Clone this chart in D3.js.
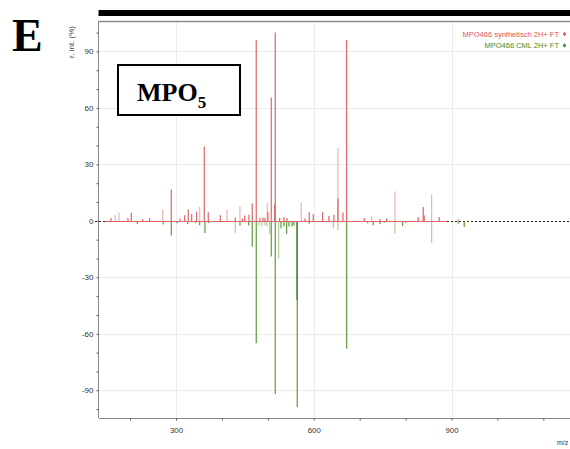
<!DOCTYPE html>
<html>
<head>
<meta charset="utf-8">
<script src="https://cdn.jsdelivr.net/npm/d3@7"></script>
<style>
  html, body { margin: 0; padding: 0; background: #fff; }
  svg { display: block; }
</style>
</head>
<body>
<svg id="chart" width="570" height="449"></svg>
<script>
// ---------- data ----------
// MPO466 synthetisch 2H+ FT (plotted upward) – m/z and relative intensity (%)
const synthMz  = [158.5, 195.5, 202.7, 227.5, 242.7, 289.8, 308.7, 319, 326.8, 334.2, 345, 361.6, 370.3, 396.5, 429, 444.6, 449.6, 458.9, 466.1, 474.8, 482.9, 489.4, 493.8, 500.3, 507.5, 514.9, 516.2, 525.8, 535.1, 541.7, 580.9, 590.2, 598.9, 619.4, 633.1, 644, 652.7, 663.6, 671.7, 710, 744.2, 758.7, 827.5, 838.4, 840.6, 873.3, 914.6];
const synthInt = [1.5, 1.5, 4.3, 0.8, 1.5, 16.7, 1.2, 3, 6, 3.7, 4.8, 39.5, 4.5, 3, 1.8, 1.2, 2.8, 3.2, 9.2, 96, 1.5, 1.8, 1.6, 4.5, 65.5, 8.5, 100, 1.5, 2, 1.5, 1.2, 4.6, 3.5, 4.6, 2.6, 3.2, 11.9, 4.4, 96, 1.5, 1, 1.2, 2, 7.3, 2.8, 2, 0.8];
// weaker (isotope) peaks of the same spectrum
const synthFaintMz  = [167.8, 175.9, 271, 351.6, 411, 439.3, 498.8, 572.8, 652.7, 726.1, 776.8, 856.7];
const synthFaintInt = [3.3, 4.3, 6, 7.3, 6, 7.8, 9.6, 9.6, 38.8, 2.3, 15.7, 14];

// MPO466 CML 2H+ FT (plotted downward)
const cmlMz  = [215.7, 272.3, 289.8, 302.8, 325.5, 342.9, 351.6, 363.1, 371.2, 439.3, 458.3, 466.1, 474.8, 507.5, 516.2, 528.6, 535.1, 541, 546, 552.6, 556.9, 564.1, 590.2, 671.7, 717.4, 729.6, 744.2, 753.5, 793.6, 800.8, 907.4, 914.6, 927.7];
const cmlInt = [-1.7, -2, -7.8, -1.3, -1.7, -1.2, -2.3, -6.4, -1.2, -2.5, -2.5, -13.8, -65, -18.9, -92, -4, -3, -7, -3, -3, -2.5, -99, -1.5, -68, -1.3, -2.3, -1.7, -1, -2.7, -1, -0.8, -1.5, -3.3];
// overlapping (second) CML peak drawn darker
const cmlDarkMz  = [563.6];
const cmlDarkInt = [-42];
const cmlFaintMz  = [429.1, 480.7, 487.2, 493.8, 498.1, 504, 523.6, 642.5, 652.7, 776.8, 856.7];
const cmlFaintInt = [-6.4, -2.5, -3, -2.5, -3, -7, -20, -4, -5, -6.7, -11.7];

const yTicks = [-90, -60, -30, 0, 30, 60, 90];
const xTicks = [300, 600, 900];
const legendLabels = ["MPO466 synthetisch 2H+ FT", "MPO466 CML 2H+ FT"];

// ---------- drawing ----------
const SANS = "'Liberation Sans', Arial, sans-serif";
const SERIF = "'Liberation Serif', 'Times New Roman', serif";
const svg = d3.select("#chart");
const L = 99, R = 570, T = 21.7, B = 418;

const x = d3.scaleLinear().domain([132.4, 1158]).range([L, R]);
const y = d3.scaleLinear().domain([-105, 106]).range([418.5, 21.3]);

const red = "#e06464", redFaint = "#ecb4b4";
const green = "#5c9c3a", greenDark = "#3b7a22", greenFaint = "#accf9a";

// gridlines
const grid = svg.append("g");
grid.selectAll("line.gx").data(xTicks).join("line").attr("class", "gx")
  .attr("x1", d => Math.round(x(d)) + 0.5).attr("x2", d => Math.round(x(d)) + 0.5)
  .attr("y1", T).attr("y2", B).attr("stroke", "#ebebeb").attr("stroke-width", 1);
grid.selectAll("line.gy").data(yTicks.filter(d => d !== 0)).join("line").attr("class", "gy")
  .attr("x1", L).attr("x2", R)
  .attr("y1", d => Math.round(y(d)) + 0.5).attr("y2", d => Math.round(y(d)) + 0.5)
  .attr("stroke", "#ebebeb").attr("stroke-width", 1);

// baseline: black dashed
const yz = Math.round(y(0));
svg.append("line").attr("x1", 95).attr("x2", R).attr("y1", yz + 0.5).attr("y2", yz + 0.5)
  .attr("stroke", "#222").attr("stroke-width", 1).attr("stroke-dasharray", "2,2");

function drawPeaks(mz, vals, color) {
  svg.append("g").selectAll("line").data(mz.map((m, i) => [m, vals[i]])).join("line")
    .attr("x1", d => x(d[0])).attr("x2", d => x(d[0]))
    .attr("y1", yz + 0.5).attr("y2", d => y(d[1]))
    .attr("stroke", color).attr("stroke-width", 1.2);
}
drawPeaks(cmlFaintMz, cmlFaintInt, greenFaint);
drawPeaks(cmlMz, cmlInt, green);
drawPeaks(cmlDarkMz, cmlDarkInt, greenDark);
drawPeaks(synthFaintMz, synthFaintInt, redFaint);
drawPeaks(synthMz, synthInt, red);

svg.append("rect").attr("x", x(145)).attr("width", x(890) - x(145)).attr("y", yz).attr("height", 1)
  .attr("fill", red);

// axes
const yAxis = d3.axisLeft(y)
  .tickValues(d3.range(-100, 101, 10))
  .tickSize(2)
  .tickFormat(d => yTicks.includes(d) ? String(d) : "");
const gy = svg.append("g").attr("transform", `translate(${L - 0.5},0)`).call(yAxis);
gy.select(".domain").attr("stroke", "#888").attr("d", `M0,${T}V${B}`);
gy.selectAll(".tick line").attr("stroke", "#555");
gy.selectAll(".tick text").attr("x", -5)
  .style("font-size", "8px").style("font-family", SANS).attr("fill", "#333");

const xAxis = d3.axisBottom(x)
  .tickValues(d3.range(200, 1101, 100))
  .tickSize(2)
  .tickFormat(d => xTicks.includes(d) ? String(d) : "");
const gx = svg.append("g").attr("transform", `translate(0,${B + 0.5})`).call(xAxis);
gx.select(".domain").attr("stroke", "#888").attr("d", `M${L},0H${R}`);
gx.selectAll(".tick line").attr("stroke", "#555");
gx.selectAll(".tick text").attr("y", 8.5)
  .style("font-size", "7.8px").style("font-family", SANS).attr("fill", "#333");

// frame top line + black bar
svg.append("line").attr("x1", L - 1).attr("x2", R).attr("y1", 21.5).attr("y2", 21.5)
  .attr("stroke", "#8a8a8a").attr("stroke-width", 1.5);
svg.append("rect").attr("x", 98.5).attr("y", 10).attr("width", R - 98.5).attr("height", 6).attr("fill", "#000");

// axis titles
svg.append("text").attr("transform", "translate(74,42) rotate(-90)")
  .attr("text-anchor", "middle").style("font-size", "8px").style("font-family", SANS)
  .attr("fill", "#444").text("r. int. (%)");
svg.append("text").attr("x", 557).attr("y", 445).style("font-size", "7px").style("font-family", SANS)
  .attr("fill", "#333").text("m/z");

// legend
const legendColors = ["#d85a5a", "#3f8c2a"];
legendLabels.forEach((t, i) => {
  const ly = 36.5 + i * 11.5;
  svg.append("text").attr("x", 559).attr("y", ly).attr("text-anchor", "end")
    .style("font-size", "7.5px").style("font-family", SANS).attr("fill", legendColors[i]).text(t);
  svg.append("path").attr("d", "M0,-2.2L1.8,0L0,2.2L-1.8,0Z")
    .attr("transform", `translate(564.5,${ly - 2.5})`).attr("fill", legendColors[i]);
});

// panel letter
svg.append("text").attr("x", 12).attr("y", 50.5)
  .style("font-family", SERIF).style("font-weight", "bold").style("font-size", "46px")
  .attr("fill", "#000").text("E");

// MPO5 box
svg.append("rect").attr("x", 118).attr("y", 65).attr("width", 122).attr("height", 50)
  .attr("fill", "#fff").attr("stroke", "#000").attr("stroke-width", 2);
const mt = svg.append("text").attr("x", 137).attr("y", 100.5)
  .style("font-family", SERIF).style("font-weight", "bold").style("font-size", "26px")
  .attr("fill", "#000");
mt.append("tspan").text("MPO");
mt.append("tspan").style("font-size", "17px").attr("dy", 7).text("5");
</script>
</body>
</html>
